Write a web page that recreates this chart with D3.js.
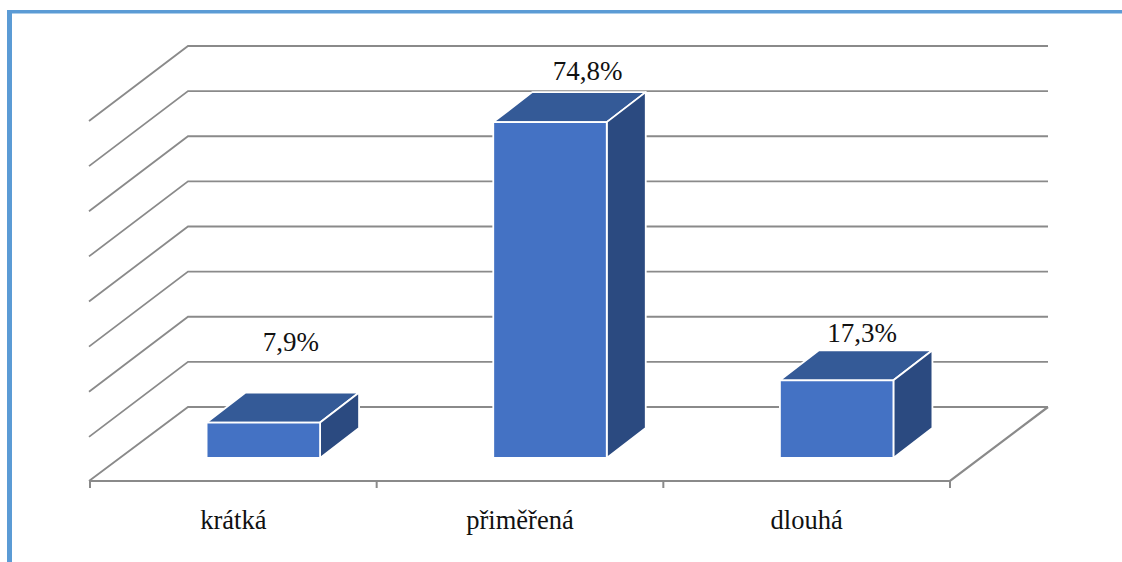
<!DOCTYPE html>
<html>
<head>
<meta charset="utf-8">
<script src="https://cdn.jsdelivr.net/npm/d3@7/dist/d3.min.js"></script>
<style>
  html, body { margin: 0; padding: 0; background: #fff; }
  svg { display: block; }
  text { font-family: "Liberation Serif", "Times New Roman", serif; fill: #111; }
</style>
</head>
<body>
<svg id="chart" width="1122" height="562"></svg>
<script>
// Chart content
const categories = ["krátká", "přiměřená", "dlouhá"];
const values = [7.9, 74.8, 17.3];
const valueLabels = ["7,9%", "74,8%", "17,3%"];
const gridValues = [0, 10, 20, 30, 40, 50, 60, 70, 80];

// Hand-placed label shifts relative to the centre of each bar's top face
const labelShiftX = [8, 18, 6];
const labelShiftY = [-42, -12, -8];

// Layout of the oblique 3D box
const plotLeft = 90, plotRight = 950, floorFrontY = 481;
const wallDx = 98, wallDy = 74;
const barBaseY = 458, barShiftX = 30, barWidth = 113.5;
const barDepthX = 39, barDepthY = 30;

const colors = { front: "#4472C4", top: "#345A97", side: "#2B4A80", grid: "#8A8A8A", frame: "#5B9BD5" };

const svg = d3.select("#chart");
const x = d3.scaleBand().domain(categories).range([plotLeft, plotRight]);
const y = d3.scaleLinear().domain([0, 80]).range([407, 46]);
// Bars stand forward of the back wall, so their scale is a touch shorter
const barY = d3.scaleLinear().domain([0, 80]).range([barBaseY, 98.8]);

// Page frame: top and left rules only
svg.append("rect").attr("x", 7).attr("y", 10).attr("width", 1115).attr("height", 3.5).attr("fill", colors.frame);
svg.append("rect").attr("x", 7).attr("y", 10).attr("width", 5).attr("height", 552).attr("fill", colors.frame);

// Side wall and back wall grid lines
const line = d3.line();
const grid = svg.append("g").attr("fill", "none").attr("stroke", colors.grid).attr("stroke-width", 1.8);
grid.selectAll("path.wall").data(gridValues).join("path").attr("class", "wall")
  .attr("d", v => line([
    [plotLeft - 1, y(v) + wallDy + (v === 0 ? 0 : 1)],
    [plotLeft + wallDx, y(v)],
    [plotRight + wallDx, y(v)]
  ]));

// Floor edges
grid.append("path").attr("d", line([
  [plotLeft, floorFrontY],
  [plotRight, floorFrontY],
  [plotRight + wallDx, y(0)]
])).attr("stroke-width", 2.2);

// Category axis: labels only, the tick marks sit on the band edges
const axis = svg.append("g")
  .attr("transform", `translate(0,${floorFrontY})`)
  .call(d3.axisBottom(x).tickSize(0));
axis.select(".domain").remove();
axis.selectAll("text").attr("font-size", 26.5).attr("dy", 0).attr("y", 47.5)
  .style("font-family", '"Liberation Serif", serif').attr("fill", "#111");
svg.append("g").selectAll("line")
  .data(d3.range(categories.length + 1))
  .join("line")
  .attr("x1", i => plotLeft + i * x.step())
  .attr("x2", i => plotLeft + i * x.step())
  .attr("y1", floorFrontY)
  .attr("y2", floorFrontY + 7)
  .attr("stroke", colors.grid)
  .attr("stroke-width", 2);

// Bars, each made of three faces with white edges
const barLeft = c => x(c) + x.bandwidth() / 2 + barShiftX - barWidth / 2;
const barData = categories.map((c, i) => ({ c, v: values[i], i }));
const bars = svg.append("g").selectAll("g")
  .data(barData)
  .join("g")
  .attr("stroke", "#fff")
  .attr("stroke-width", 1.8)
  .attr("stroke-linejoin", "round");

bars.append("path").attr("fill", colors.top).attr("d", d => {
  const l = barLeft(d.c), t = barY(d.v);
  return line([[l, t], [l + barWidth, t], [l + barWidth + barDepthX, t - barDepthY], [l + barDepthX, t - barDepthY]]) + "Z";
});
bars.append("path").attr("fill", colors.side).attr("d", d => {
  const r = barLeft(d.c) + barWidth, t = barY(d.v);
  return line([[r, t], [r + barDepthX, t - barDepthY], [r + barDepthX, barBaseY - barDepthY], [r, barBaseY]]) + "Z";
});
bars.append("path").attr("fill", colors.front).attr("d", d => {
  const l = barLeft(d.c), t = barY(d.v);
  return line([[l, t], [l + barWidth, t], [l + barWidth, barBaseY], [l, barBaseY]]) + "Z";
});

// Value labels above the bars
svg.append("g").selectAll("text")
  .data(barData)
  .join("text")
  .attr("text-anchor", "middle")
  .attr("font-size", 27)
  .attr("x", d => barLeft(d.c) + (barWidth + barDepthX) / 2 + labelShiftX[d.i])
  .attr("y", d => barY(d.v) - barDepthY + labelShiftY[d.i])
  .text(d => valueLabels[d.i]);
</script>
</body>
</html>
